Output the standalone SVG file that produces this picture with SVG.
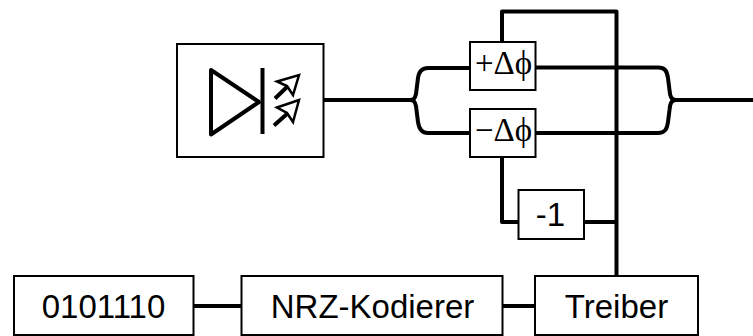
<svg xmlns="http://www.w3.org/2000/svg" width="753" height="336" viewBox="0 0 753 336">
<style>
.box{fill:#fff;stroke:#000;stroke-width:2}
.w{fill:none;stroke:#000;stroke-width:4;stroke-linejoin:round}
.g{fill:none;stroke:#000;stroke-width:2.500;stroke-linejoin:miter}
.t{font-family:"Liberation Sans",Arial,sans-serif;font-size:33px;fill:#000;text-anchor:middle}
.s{font-family:"Liberation Serif","Times New Roman",serif;font-size:33px;fill:#000;text-anchor:middle}
</style>
<rect width="753" height="336" fill="#fff"/>
<g id="connectors">
<path class="w" d="M323 100H410C414 100 415 98 416 94L418 78C419 71 422 68 428 68H470"/>
<path class="w" d="M410 100C414 100 415 102 416 106L418 122C419 129 422 133 428 133H470"/>
<path class="w" d="M536 67.500H658C665 67.500 667 71 668 78L669.500 90C670 96 671 100 676 100H753"/>
<path class="w" d="M536 133H658C665 133 667 129 668 122L669.500 110C670 104 671 100 676 100"/>
<path class="w" d="M502 42V11.500H616.500V276"/>
<path class="w" d="M502 157V222H519"/>
<path class="w" d="M584 222H616.500"/>
<path class="w" d="M192 306H243"/>
<path class="w" d="M501 306H536"/>
</g>
<g id="led">
<rect class="box" x="177" y="44" width="146.500" height="113"/>
<path d="M211 70V134.500L259 102Z" fill="none" stroke="#000" stroke-width="4" stroke-linejoin="round"/>
<path d="M262.500 68V134" class="w"/>
<path class="w" d="M275 98.500L288 86"/>
<path class="g" d="M277 81.500L299 75L293 95L287 86Z"/>
<path class="w" d="M274 125.500L288 113"/>
<path class="g" d="M277 107.500L299 100L293 122L287 113Z"/>
</g>
<g id="plus-phase">
<rect class="box" x="470" y="42" width="65.500" height="48"/>
<text class="s" x="503.500" y="73.500">+Δϕ</text>
</g>
<g id="minus-phase">
<rect class="box" x="470" y="109" width="65.500" height="48"/>
<text class="s" x="503.500" y="140.500">−Δϕ</text>
</g>
<g id="inverter">
<rect class="box" x="518.500" y="190" width="65.500" height="49"/>
<text class="t" x="550.500" y="226">-1</text>
</g>
<g id="source">
<rect class="box" x="14" y="276" width="179.500" height="59"/>
<text class="t" x="103.500" y="318">0101110</text>
</g>
<g id="encoder">
<rect class="box" x="241.500" y="276" width="261" height="59"/>
<text class="t" x="372.500" y="318">NRZ-Kodierer</text>
</g>
<g id="driver">
<rect class="box" x="535" y="276" width="163" height="59"/>
<text class="t" x="616.500" y="318">Treiber</text>
</g>
</svg>
